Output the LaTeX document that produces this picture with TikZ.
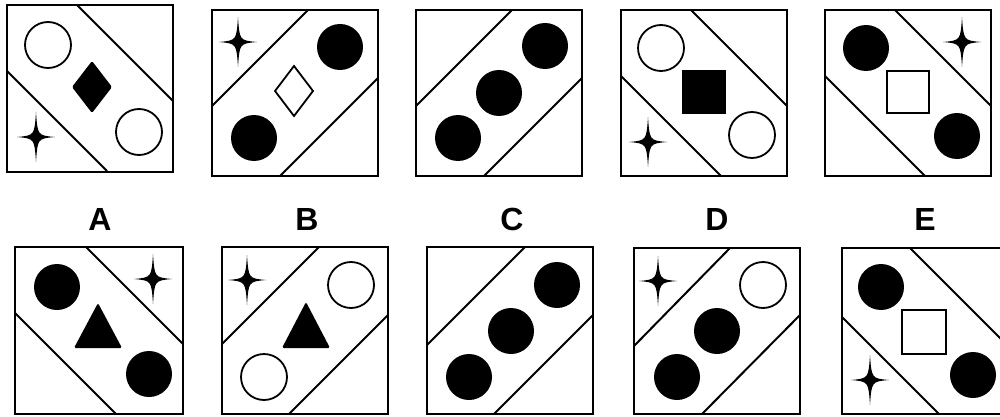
\documentclass[tikz,border=0pt]{standalone}
\usepackage{fontspec}
\setmainfont{Liberation Sans}
\tikzset{
  panel/.style={line width=2.6pt},
  band/.style={line width=2pt},
  openshape/.style={draw,line width=1.8pt,fill=white},
  fullshape/.style={fill=black},
  letter/.style={anchor=base,font=\fontsize{32}{36}\selectfont\bfseries}
}
% four pointed star at (x,y)
\newcommand{\sparkle}[2]{%
  \fill[shift={(#1,#2)}] (0,-25) .. controls (1.6,-1.6) .. (19,0)
    .. controls (1.6,1.6) .. (0,25) .. controls (-1.6,1.6) .. (-19,0)
    .. controls (-1.6,-1.6) .. cycle;}

\begin{document}
\begin{tikzpicture}[x=1pt,y=-1pt]
  \clip (0,0) rectangle (1000,417);
  \fill[white] (0,0) rectangle (1000,417);
  % top row
  \begin{scope}[shift={(7,5)}]
    \draw[panel] (0,0) rectangle (166,167);
    \draw[band] (70,0) -- (166,96);
    \draw[band] (0,66) -- (100,166);
    \draw[openshape] (41,40) circle (23);
    \fill[fullshape,rounded corners=1.5pt] (85,56) -- (105,82) -- (85,108) -- (65,82) -- cycle;
    \draw[openshape] (132,127) circle (23);
    \sparkle{29}{132}
  \end{scope}
  \begin{scope}[shift={(212,10)}]
    \draw[panel] (0,0) rectangle (166,166);
    \draw[band] (96,0) -- (0,96);
    \draw[band] (166,68) -- (68,166);
    \sparkle{26}{32}
    \fill[fullshape] (128,37) circle (23);
    \draw[openshape] (82,56) -- (101,81) -- (82,106) -- (63,81) -- cycle;
    \fill[fullshape] (42,128) circle (23);
  \end{scope}
  \begin{scope}[shift={(416,10)}]
    \draw[panel] (0,0) rectangle (166,166);
    \draw[band] (96,0) -- (0,96);
    \draw[band] (166,68) -- (68,166);
    \fill[fullshape] (129,36) circle (23);
    \fill[fullshape] (83,83) circle (23);
    \fill[fullshape] (42,128) circle (23);
  \end{scope}
  \begin{scope}[shift={(621,10)}]
    \draw[panel] (0,0) rectangle (166,166);
    \draw[band] (70,0) -- (166,96);
    \draw[band] (0,66) -- (100,166);
    \draw[openshape] (40,38) circle (23);
    \fill[fullshape] (61,60) rectangle (105,104);
    \draw[openshape] (131,125) circle (23);
    \sparkle{27}{132}
  \end{scope}
  \begin{scope}[shift={(825,10)}]
    \draw[panel] (0,0) rectangle (166,166);
    \draw[band] (70,0) -- (166,96);
    \draw[band] (0,66) -- (100,166);
    \fill[fullshape] (41,38) circle (23);
    \sparkle{137}{32}
    \draw[openshape] (62,61) rectangle (104,103);
    \fill[fullshape] (132,126) circle (23);
  \end{scope}
  % answer letters
  \node[letter] (labA) at (100,230) {A};
  \node[letter] (labB) at (307,230) {B};
  \node[letter] (labC) at (512,230) {C};
  \node[letter] (labD) at (717,230) {D};
  \node[letter] (labE) at (925,230) {E};
  % bottom row
  \begin{scope}[shift={(15,247)}]
    \draw[panel] (0,0) rectangle (168,167);
    \draw[band] (71,0) -- (168,97);
    \draw[band] (0,66) -- (101,167);
    \fill[fullshape] (42,40) circle (23);
    \sparkle{138}{32}
    \fill[fullshape,rounded corners=1.5pt] (83,56) -- (107,101) -- (59,101) -- cycle;
    \fill[fullshape] (134,127) circle (23);
  \end{scope}
  \begin{scope}[shift={(222,247)}]
    \draw[panel] (0,0) rectangle (166,167);
    \draw[band] (97,0) -- (0,97);
    \draw[band] (166,68) -- (67,167);
    \sparkle{25}{33}
    \draw[openshape] (129,38) circle (23);
    \fill[fullshape,rounded corners=1.5pt] (84,55) -- (108,101) -- (60,101) -- cycle;
    \draw[openshape] (42,130) circle (23);
  \end{scope}
  \begin{scope}[shift={(427,247)}]
    \draw[panel] (0,0) rectangle (166,167);
    \draw[band] (98,0) -- (0,98);
    \draw[band] (166,68) -- (67,167);
    \fill[fullshape] (130,38) circle (23);
    \fill[fullshape] (84,84) circle (23);
    \fill[fullshape] (42,130) circle (23);
  \end{scope}
  \begin{scope}[shift={(634,248)}]
    \draw[panel] (0,0) rectangle (166,166);
    \draw[band] (96,0) -- (0,98);
    \draw[band] (166,67) -- (68,166);
    \sparkle{24}{33}
    \draw[openshape] (129,37) circle (23);
    \fill[fullshape] (83,83) circle (23);
    \fill[fullshape] (43,129) circle (23);
  \end{scope}
  \begin{scope}[shift={(842,248)}]
    \draw[panel] (0,0) rectangle (166,166);
    \draw[band] (68,0) -- (166,98);
    \draw[band] (0,69) -- (97,166);
    \fill[fullshape] (39,39) circle (23);
    \draw[openshape] (60,62) rectangle (104,106);
    \fill[fullshape] (131,127) circle (23);
    \sparkle{28}{132}
  \end{scope}
\end{tikzpicture}
\end{document}
